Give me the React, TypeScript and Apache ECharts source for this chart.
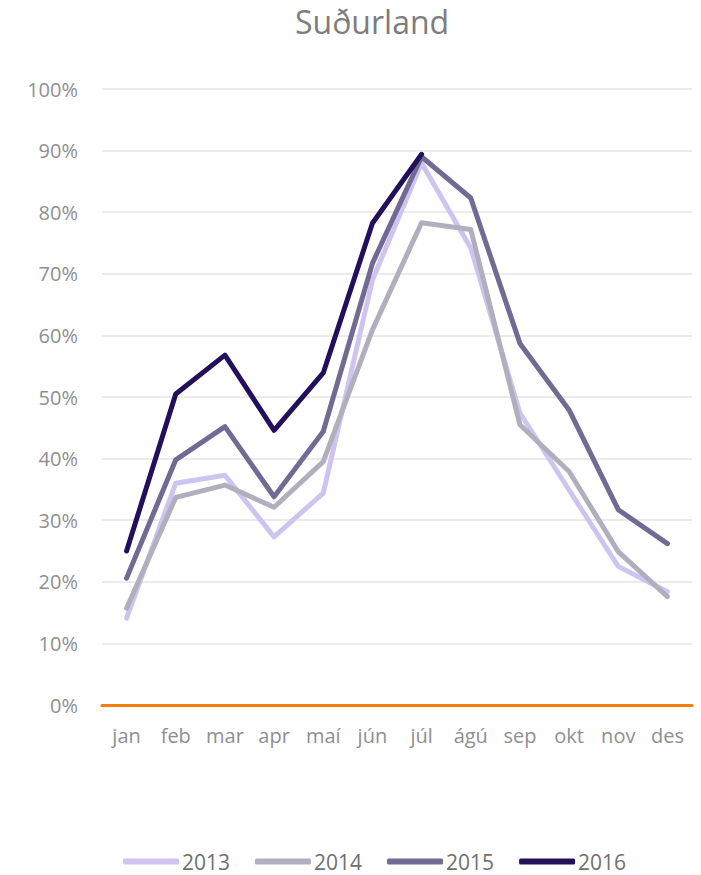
import React, { useEffect, useRef } from "react";
import * as echarts from "echarts";

const months = ["jan", "feb", "mar", "apr", "maí", "jún", "júl", "ágú", "sep", "okt", "nov", "des"];
const s2013 = [14.1, 36.0, 37.3, 27.3, 34.4, 69.0, 88.0, 74.2, 47.4, 34.9, 22.5, 18.4];
const s2014 = [15.7, 33.7, 35.7, 32.1, 39.5, 60.9, 78.3, 77.2, 45.5, 37.9, 24.9, 17.6];
const s2015 = [20.6, 39.8, 45.2, 33.8, 44.4, 71.7, 89.0, 82.3, 58.7, 47.9, 31.7, 26.2];
const s2016 = [25.0, 50.5, 56.8, 44.6, 53.9, 78.2, 89.4];
const seriesNames = ["2013", "2014", "2015", "2016"];
const colors = ["#CFC4F0", "#B1AFBD", "#726A93", "#24105A"];

export default function App() {
  const ref = useRef<HTMLDivElement>(null);
  useEffect(() => {
    if (!ref.current) return;
    const chart = echarts.init(ref.current, null, { renderer: "svg" });
    const data = [s2013, s2014, s2015, s2016];
    const font = "Open Sans";
    chart.setOption({
      animation: false,
      backgroundColor: "#ffffff",
      title: {
        text: "Suðurland",
        left: 290,
        top: 0,
        textStyle: { fontFamily: font, fontSize: 32, fontWeight: "normal", color: "#7d7d7d" },
      },
      grid: { left: 102, right: 9, top: 89, bottom: 170, containLabel: false },
      legend: {
        bottom: -2,
        left: 118,
        itemWidth: 56,
        itemHeight: 6,
        itemGap: 25,
        icon: "roundRect",
        data: seriesNames,
        textStyle: { fontFamily: font, fontSize: 21, color: "#707070", padding: [0, 0, 0, -2] },
      },
      xAxis: {
        type: "category",
        data: months,
        boundaryGap: true,
        axisLine: { lineStyle: { color: "#F27F0C", width: 3 } },
        axisTick: { show: false },
        axisLabel: { fontFamily: font, fontSize: 20, color: "#8f8f8f", margin: 20 },
      },
      yAxis: {
        type: "value",
        min: 0,
        max: 100,
        interval: 10,
        axisLine: { show: false },
        axisTick: { show: false },
        axisLabel: { fontFamily: font, fontSize: 20, color: "#8f8f8f", margin: 24, formatter: "{value}%" },
        splitLine: { lineStyle: { color: "#e4e4e4", width: 1.5 } },
      },
      series: seriesNames.map((name, i) => ({
        name,
        type: "line",
        data: data[i],
        symbol: "none",
        z: 2 + i,
        itemStyle: { color: colors[i] },
        lineStyle: { color: colors[i], width: 5, cap: "round", join: "round" },
      })),
    });
    return () => chart.dispose();
  }, []);
  return (
    <div
      ref={ref}
      style={{ position: "fixed", left: 0, top: 0, width: 701, height: 875 }}
    />
  );
}
